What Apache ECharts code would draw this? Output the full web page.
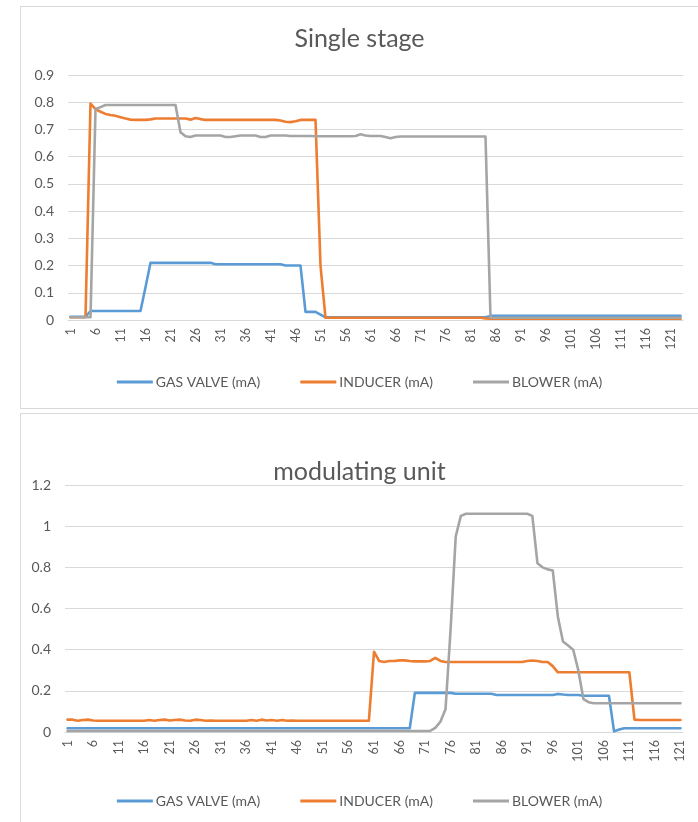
<!DOCTYPE html>
<html>
<head>
<meta charset="utf-8">
<script src="https://cdn.jsdelivr.net/npm/echarts@6/dist/echarts.min.js"></script>
<style>
  html, body { margin: 0; padding: 0; background: #fff; }
  body { width: 698px; height: 822px; position: relative; overflow: hidden; }
  #top { position: absolute; left: 20px; top: 6px; width: 678px; height: 403px; border-top: 1px solid #d9d9d9; border-left: 1px solid #d9d9d9; border-bottom: 1px solid #d9d9d9; box-sizing: border-box; }
  #bottom { position: absolute; left: 20px; top: 413px; width: 678px; height: 409px; border-top: 1px solid #d9d9d9; border-left: 1px solid #d9d9d9; box-sizing: border-box; }
</style>
</head>
<body>
<div id="top"></div>
<div id="bottom"></div>
<script>
// ---------- Single stage (123 samples) ----------
const topCategories = [];
for (let i = 1; i <= 123; i++) topCategories.push(String(i));

const topGasValve = [
  0.012,0.012,0.012,0.012,0.033,0.033,0.033,0.033,0.033,0.033,
  0.033,0.033,0.033,0.033,0.033,0.12,0.21,0.21,0.21,0.21,
  0.21,0.21,0.21,0.21,0.21,0.21,0.21,0.21,0.21,0.205,
  0.205,0.205,0.205,0.205,0.205,0.205,0.205,0.205,0.205,0.205,
  0.205,0.205,0.205,0.2,0.2,0.2,0.2,0.03,0.03,0.03,
  0.02,0.01,0.01,0.01,0.01,0.01,0.01,0.01,0.01,0.01,
  0.01,0.01,0.01,0.01,0.01,0.01,0.01,0.01,0.01,0.01,
  0.01,0.01,0.01,0.01,0.01,0.01,0.01,0.01,0.01,0.01,
  0.01,0.01,0.01,0.01,0.015,0.015,0.015,0.015,0.015,0.015,
  0.015,0.015,0.015,0.015,0.015,0.015,0.015,0.015,0.015,0.015,
  0.015,0.015,0.015,0.015,0.015,0.015,0.015,0.015,0.015,0.015,
  0.015,0.015,0.015,0.015,0.015,0.015,0.015,0.015,0.015,0.015,
  0.015,0.015,0.015
];
const topInducer = [
  0.01,0.01,0.01,0.01,0.795,0.775,0.765,0.757,0.753,0.75,
  0.745,0.74,0.736,0.735,0.735,0.735,0.737,0.74,0.74,0.74,
  0.74,0.74,0.74,0.74,0.736,0.742,0.738,0.735,0.735,0.735,
  0.735,0.735,0.735,0.735,0.735,0.735,0.735,0.735,0.735,0.735,
  0.735,0.735,0.733,0.728,0.727,0.73,0.735,0.735,0.735,0.735,
  0.2,0.008,0.008,0.008,0.008,0.008,0.008,0.008,0.008,0.008,
  0.008,0.008,0.008,0.008,0.008,0.008,0.008,0.008,0.008,0.008,
  0.008,0.008,0.008,0.008,0.008,0.008,0.008,0.008,0.008,0.008,
  0.008,0.008,0.008,0.006,0.005,0.005,0.005,0.005,0.005,0.005,
  0.005,0.005,0.005,0.005,0.005,0.005,0.005,0.005,0.005,0.005,
  0.005,0.005,0.005,0.005,0.005,0.005,0.005,0.005,0.005,0.005,
  0.005,0.005,0.005,0.005,0.005,0.005,0.005,0.005,0.005,0.005,
  0.005,0.005,0.005
];
const topBlower = [
  0.01,0.01,0.01,0.01,0.01,0.775,0.782,0.79,0.79,0.79,
  0.79,0.79,0.79,0.79,0.79,0.79,0.79,0.79,0.79,0.79,
  0.79,0.79,0.69,0.675,0.672,0.678,0.678,0.678,0.678,0.678,
  0.678,0.672,0.672,0.675,0.678,0.678,0.678,0.678,0.672,0.672,
  0.678,0.678,0.678,0.678,0.676,0.676,0.676,0.676,0.676,0.675,
  0.675,0.675,0.675,0.675,0.675,0.675,0.675,0.676,0.682,0.678,
  0.676,0.676,0.676,0.672,0.668,0.672,0.674,0.674,0.674,0.674,
  0.674,0.674,0.674,0.674,0.674,0.674,0.674,0.674,0.674,0.674,
  0.674,0.674,0.674,0.674,0.008,0.008,0.008,0.008,0.008,0.008,
  0.008,0.008,0.008,0.008,0.008,0.008,0.008,0.008,0.008,0.008,
  0.008,0.008,0.008,0.008,0.008,0.008,0.008,0.008,0.008,0.008,
  0.008,0.008,0.008,0.008,0.008,0.008,0.008,0.008,0.008,0.008,
  0.008,0.008,0.008
];

// ---------- modulating unit (121 samples) ----------
const bottomCategories = [];
for (let i = 1; i <= 121; i++) bottomCategories.push(String(i));

const bottomGasValve = [
  0.018,0.018,0.018,0.018,0.018,0.018,0.018,0.018,0.018,0.018,
  0.018,0.018,0.018,0.018,0.018,0.018,0.018,0.018,0.018,0.018,
  0.018,0.018,0.018,0.018,0.018,0.018,0.018,0.018,0.018,0.018,
  0.018,0.018,0.018,0.018,0.018,0.018,0.018,0.018,0.018,0.018,
  0.018,0.018,0.018,0.018,0.018,0.018,0.018,0.018,0.018,0.018,
  0.018,0.018,0.018,0.018,0.018,0.018,0.018,0.018,0.018,0.018,
  0.018,0.018,0.018,0.018,0.018,0.018,0.018,0.018,0.19,0.19,
  0.19,0.19,0.19,0.19,0.19,0.19,0.186,0.186,0.186,0.186,
  0.186,0.186,0.186,0.186,0.18,0.18,0.18,0.18,0.18,0.18,
  0.18,0.18,0.18,0.18,0.18,0.18,0.185,0.182,0.18,0.18,
  0.18,0.176,0.176,0.176,0.176,0.176,0.176,0.003,0.012,0.018,
  0.018,0.018,0.018,0.018,0.018,0.018,0.018,0.018,0.018,0.018,
  0.018
];
const bottomInducer = [
  0.06,0.06,0.055,0.058,0.06,0.056,0.055,0.055,0.055,0.055,
  0.055,0.055,0.055,0.055,0.055,0.055,0.058,0.055,0.058,0.06,
  0.056,0.058,0.06,0.056,0.055,0.06,0.058,0.055,0.056,0.055,
  0.055,0.055,0.055,0.055,0.055,0.055,0.058,0.055,0.06,0.056,
  0.058,0.055,0.058,0.055,0.056,0.055,0.055,0.055,0.055,0.055,
  0.055,0.055,0.055,0.055,0.055,0.055,0.055,0.055,0.055,0.055,
  0.39,0.345,0.34,0.345,0.345,0.348,0.348,0.345,0.343,0.343,
  0.343,0.345,0.36,0.345,0.34,0.34,0.34,0.34,0.34,0.34,
  0.34,0.34,0.34,0.34,0.34,0.34,0.34,0.34,0.34,0.34,
  0.345,0.347,0.345,0.34,0.34,0.32,0.29,0.29,0.29,0.29,
  0.29,0.29,0.29,0.29,0.29,0.29,0.29,0.29,0.29,0.29,
  0.29,0.06,0.058,0.058,0.058,0.058,0.058,0.058,0.058,0.058,
  0.058
];
const bottomBlower = [
  0.005,0.005,0.005,0.005,0.005,0.005,0.005,0.005,0.005,0.005,
  0.005,0.005,0.005,0.005,0.005,0.005,0.005,0.005,0.005,0.005,
  0.005,0.005,0.005,0.005,0.005,0.005,0.005,0.005,0.005,0.005,
  0.005,0.005,0.005,0.005,0.005,0.005,0.005,0.005,0.005,0.005,
  0.005,0.005,0.005,0.005,0.005,0.005,0.005,0.005,0.005,0.005,
  0.005,0.005,0.005,0.005,0.005,0.005,0.005,0.005,0.005,0.005,
  0.005,0.005,0.005,0.005,0.005,0.005,0.005,0.005,0.005,0.005,
  0.005,0.005,0.02,0.05,0.11,0.5,0.95,1.05,1.06,1.06,
  1.06,1.06,1.06,1.06,1.06,1.06,1.06,1.06,1.06,1.06,
  1.06,1.05,0.82,0.8,0.79,0.785,0.56,0.44,0.42,0.4,
  0.3,0.16,0.145,0.14,0.14,0.14,0.14,0.14,0.14,0.14,
  0.14,0.14,0.14,0.14,0.14,0.14,0.14,0.14,0.14,0.14,
  0.14
];

const seriesNames = ['GAS VALVE (mA)', 'INDUCER (mA)', 'BLOWER (mA)'];
const colors = ['#5B9BD5', '#ED7D31', '#A5A5A5'];
const FONT = 'Lato, "Open Sans", sans-serif';
const TXT = '#595959';

function makeOption(title, cats, datas, yMax, yInterval, grid, titleTop, legendTop) {
  return {
    animation: false,
    color: colors,
    title: {
      text: title, left: 'center', top: titleTop,
      textStyle: { fontFamily: FONT, fontSize: 25, fontWeight: 'normal', color: TXT }
    },
    legend: {
      data: seriesNames, top: legendTop, left: 'center',
      icon: 'rect', itemWidth: 36, itemHeight: 3, itemGap: 40,
      textStyle: { fontFamily: FONT, fontSize: 14, color: TXT, padding: [0, 0, 0, -2] }
    },
    grid: grid,
    xAxis: {
      type: 'category', data: cats, boundaryGap: true,
      axisLine: { lineStyle: { color: '#d9d9d9', width: 1 } },
      axisTick: { show: false },
      axisLabel: { interval: 4, rotate: 90, margin: 8, fontFamily: FONT, fontSize: 12.5, color: TXT }
    },
    yAxis: {
      type: 'value', min: 0, max: yMax, interval: yInterval,
      axisLine: { show: false }, axisTick: { show: false },
      splitLine: { lineStyle: { color: '#d9d9d9', width: 1 } },
      axisLabel: { margin: 14, fontFamily: FONT, fontSize: 14, color: TXT }
    },
    series: datas.map((d, i) => ({
      name: seriesNames[i], type: 'line', data: d,
      showSymbol: false, symbol: 'none',
      lineStyle: { width: 2.6, color: colors[i], join: 'round', cap: 'round' },
      itemStyle: { color: colors[i] }
    }))
  };
}

const c1 = echarts.init(document.getElementById('top'));
c1.setOption(makeOption('Single stage', topCategories, [topGasValve, topInducer, topBlower], 0.9, 0.1,
  { left: 47, right: 15, top: 68, bottom: 88, containLabel: false }, 14, 363));

const c2 = echarts.init(document.getElementById('bottom'));
c2.setOption(makeOption('modulating unit', bottomCategories, [bottomGasValve, bottomInducer, bottomBlower], 1.2, 0.2,
  { left: 44, right: 15, top: 71, bottom: 90, containLabel: false }, 40, 375));
</script>
</body>
</html>
